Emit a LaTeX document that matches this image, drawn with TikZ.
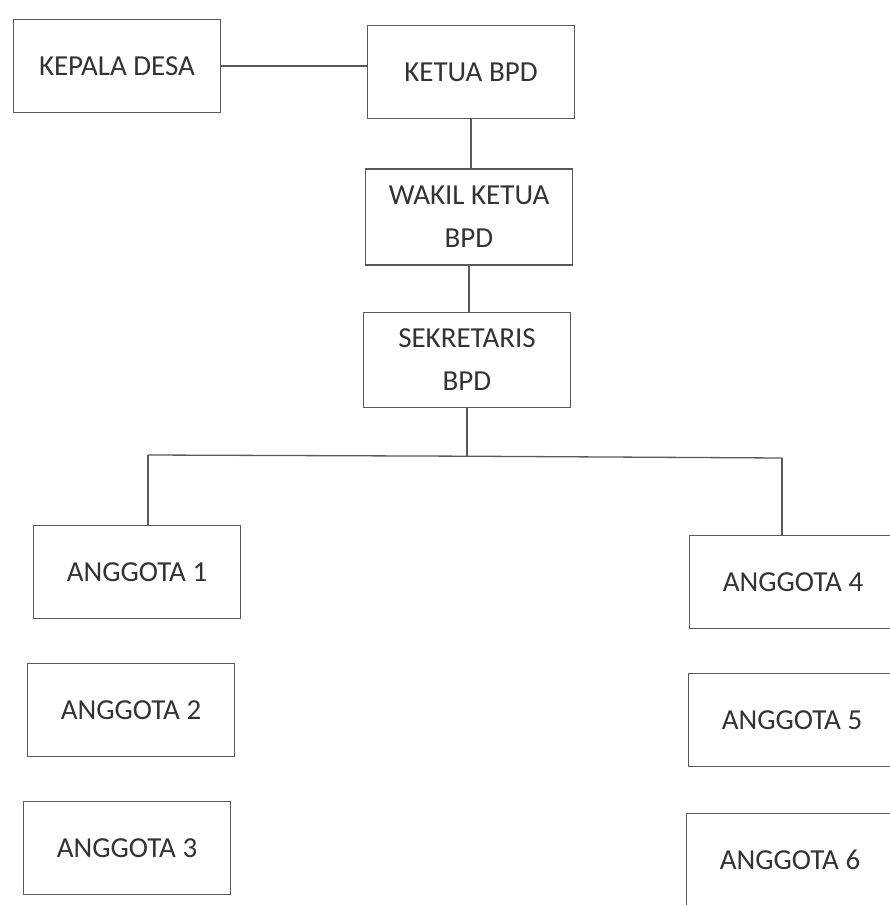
\documentclass[tikz,border=0pt]{standalone}
\usepackage{fontspec}
\setmainfont{Carlito}
\usepackage{xcolor}
\usepackage{tikz}
\usetikzlibrary{positioning, calc}

\definecolor{garis}{gray}{0.35}
\definecolor{tulisan}{gray}{0.2}

\tikzset{
	kotak/.style={draw=garis, line width=1.4pt, minimum width=207pt, minimum height=93pt,
		align=center, text=tulisan, inner sep=0pt, font=\fontsize{29}{43}\selectfont},
	hubung/.style={draw=garis, line width=1.3pt}
}

\begin{document}
\begin{tikzpicture}[x=1pt, y=-1pt]
			\useasboundingbox (0,0) rectangle (889,905);
			\node[kotak] (kades) at (117,66) {KEPALA DESA};
			\node[kotak] (ketua) at (471,72) {KETUA BPD};
			\node[kotak, minimum height=96pt] (wakil) at (469,217) {WAKIL KETUA\\BPD};
			\node[kotak, minimum height=95pt] (sekre) at (467,360) {SEKRETARIS\\BPD};
			\node[kotak] (ang1) at (137,572) {ANGGOTA 1};
			\node[kotak] (ang2) at (131,710) {ANGGOTA 2};
			\node[kotak] (ang3) at (127,848) {ANGGOTA 3};
			\node[kotak] (ang4) at (793,582) {ANGGOTA 4};
			\node[kotak] (ang5) at (792,720) {ANGGOTA 5};
			\node[kotak] (ang6) at (790,860) {ANGGOTA 6};
			\coordinate (cabang) at ($(sekre.south)+(0,48)$);
			\coordinate (kiri) at (148,455);
			\coordinate (kanan) at (782,458);
			\draw[hubung] (kades.east) -- (kades.east -| ketua.west);
			\draw[hubung] (ketua.south) -- (ketua.south |- wakil.north);
			\draw[hubung] (wakil.south) -- (wakil.south |- sekre.north);
			\draw[hubung] (sekre.south) -- (cabang);
			\draw[hubung] (kiri) -- (cabang) -- (kanan);
			\draw[hubung] (kiri) -- (kiri |- ang1.north);
			\draw[hubung] (kanan) -- (kanan |- ang4.north);
		\end{tikzpicture}
\end{document}
